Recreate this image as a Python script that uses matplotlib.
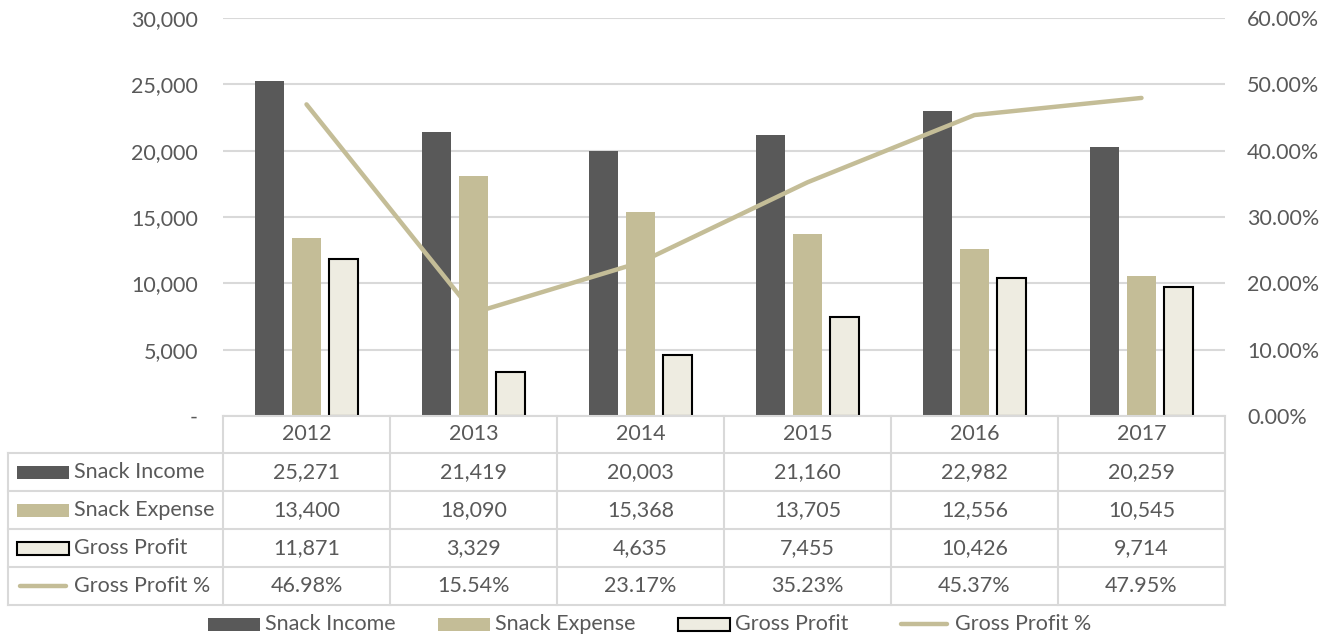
import matplotlib
matplotlib.use('Agg')
import matplotlib.pyplot as plt
import matplotlib.transforms as mtransforms
from matplotlib.patches import Rectangle
from matplotlib.lines import Line2D
import numpy as np

years = ['2012', '2013', '2014', '2015', '2016', '2017']
snack_income = [25271, 21419, 20003, 21160, 22982, 20259]
snack_expense = [13400, 18090, 15368, 13705, 12556, 10545]
gross_profit = [11871, 3329, 4635, 7455, 10426, 9714]
gross_profit_pct = [46.98, 15.54, 23.17, 35.23, 45.37, 47.95]

series_names = ['Snack Income', 'Snack Expense', 'Gross Profit', 'Gross Profit %']

DARK = '#595959'
TAN = '#C4BD97'
LIGHT = '#EEECE1'
GRID = '#D9D9D9'
TXT = '#595959'
FS = 15.5

plt.rcParams['font.family'] = ['Lato', 'DejaVu Sans']

W, H = 1338, 638
fig = plt.figure(figsize=(W / 100, H / 100), dpi=100)

def fx(px):
    return px / W

def fy(py):
    return 1 - py / H

# plot area in pixels
L, R, T, B = 223, 1225, 18, 416
ax = fig.add_axes([fx(L), fy(B), fx(R - L), (B - T) / H])
x = np.arange(len(years))
bw = 0.175
ax.bar(x - 0.22, snack_income, bw, color=DARK, zorder=2)
ax.bar(x, snack_expense, bw, color=TAN, zorder=2)
ax.bar(x + 0.22, gross_profit, bw, color=LIGHT, edgecolor='black', linewidth=1.5, zorder=2)
ax.set_xlim(-0.5, len(years) - 0.5)
ax.set_ylim(0, 30000)
yt = list(range(0, 30001, 5000))
ax.set_yticks(yt)
ax.set_yticklabels(['-' if v == 0 else f'{v:,}' for v in yt])
ax.yaxis.grid(True, color=GRID, linewidth=1.5)
ax.set_axisbelow(True)
ax.set_xticks([])
for s in ax.spines.values():
    s.set_visible(False)
ax.tick_params(axis='y', length=0, pad=18, labelsize=FS, labelcolor=TXT)

ax2 = ax.twinx()
ax2.plot(x, gross_profit_pct, color=TAN, linewidth=3.2, solid_capstyle='round', zorder=3)
ax2.set_ylim(0, 60)
ax2.set_yticks(range(0, 61, 10))
ax2.set_yticklabels([f'{v:.2f}%' for v in range(0, 61, 10)])
for s in ax2.spines.values():
    s.set_visible(False)
ax2.tick_params(axis='y', length=0, pad=16, labelsize=FS, labelcolor=TXT)

# data table under the chart
trans = mtransforms.blended_transform_factory(ax.transData, fig.transFigure)
rows_y = [416, 453, 491, 529, 567, 605]
lw = 1.5

def hline(x0, x1, py, t=fig.transFigure):
    fig.add_artist(Line2D([x0, x1], [fy(py), fy(py)], color=GRID, lw=lw, transform=t))

def vline(xx, py0, py1, t=fig.transFigure):
    fig.add_artist(Line2D([xx, xx], [fy(py0), fy(py1)], color=GRID, lw=lw, transform=t))

hline(fx(L), fx(R), rows_y[0])
for py in rows_y[1:]:
    hline(fx(8), fx(R), py)
vline(fx(8), rows_y[1], rows_y[-1])
for i in range(len(years) + 1):
    vline(i - 0.5, rows_y[0], rows_y[-1], trans)

for i, yr in enumerate(years):
    fig.text(i, fy((rows_y[0] + rows_y[1]) / 2), yr, transform=trans,
             ha='center', va='center', fontsize=FS, color=TXT)

table_vals = [
    [f'{v:,}' for v in snack_income],
    [f'{v:,}' for v in snack_expense],
    [f'{v:,}' for v in gross_profit],
    [f'{v:.2f}%' for v in gross_profit_pct],
]
key_styles = [
    dict(fc=DARK, ec='none'),
    dict(fc=TAN, ec='none'),
    dict(fc=LIGHT, ec='black', lw=1.5),
    None,
]

def legend_key(px0, py, style):
    if style is None:
        fig.add_artist(Line2D([fx(px0 + 3), fx(px0 + 49)], [fy(py), fy(py)], color=TAN,
                              lw=3.2, solid_capstyle='round', transform=fig.transFigure))
    else:
        fig.add_artist(Rectangle((fx(px0), fy(py + 6.5)), fx(52), 13 / H,
                                 transform=fig.transFigure, **style))

for r, name in enumerate(series_names):
    cy = (rows_y[r + 1] + rows_y[r + 2]) / 2
    legend_key(17, cy, key_styles[r])
    fig.text(fx(74), fy(cy), name, ha='left', va='center', fontsize=FS, color=TXT)
    for i, val in enumerate(table_vals[r]):
        fig.text(i, fy(cy), val, transform=trans, ha='center', va='center',
                 fontsize=FS, color=TXT)

# legend at the bottom
leg_x = [208, 438, 678, 898]
for px0, name, st in zip(leg_x, series_names, key_styles):
    legend_key(px0, 624, st)
    fig.text(fx(px0 + 57), fy(624), name, ha='left', va='center', fontsize=FS, color=TXT)

fig.savefig('out.png', dpi=100)
